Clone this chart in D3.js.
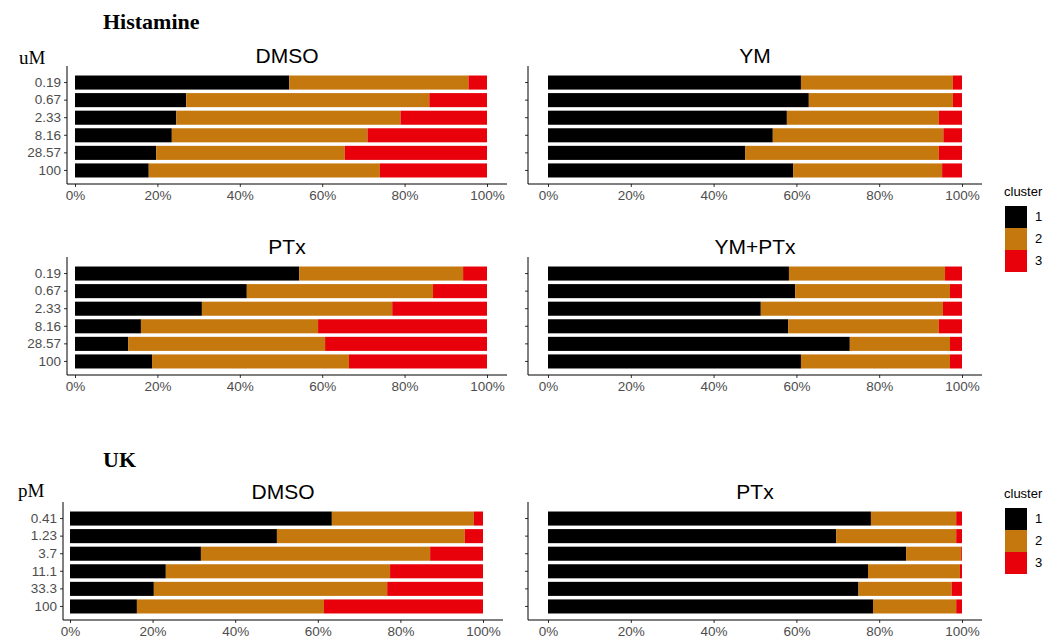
<!DOCTYPE html>
<html lang="en">
<head>
<meta charset="UTF-8">
<title>Histamine / UK clusters</title>
<script src="https://d3js.org/d3.v7.min.js"></script>
<style>
  body { margin: 0; background: #fff; }
  .tick text { font-family: 'Liberation Sans', Arial, sans-serif; font-size: 13.5px; fill: #4d4d4d; }
  .ptitle { font-family: 'Liberation Sans', Arial, sans-serif; font-size: 21px; fill: #000; }
  .serif { font-family: 'Liberation Serif', 'Times New Roman', serif; fill: #000; }
  .leg { font-family: 'Liberation Sans', Arial, sans-serif; font-size: 13px; fill: #000; }
</style>
</head>
<body>
<svg id="chart" width="1056" height="641"></svg>
<script>
const clusters = ["1", "2", "3"];
const colors = ["#000000", "#C5780E", "#E8000B"];
const histDoses = ["0.19", "0.67", "2.33", "8.16", "28.57", "100"];
const ukDoses = ["0.41", "1.23", "3.7", "11.1", "33.3", "100"];
const pctTicks = [0, 0.2, 0.4, 0.6, 0.8, 1];

// cumulative ends of cluster 1 and cluster 2 (%), one pair per dose
const histDMSO = [[52, 95.5], [27, 86], [24.6, 79], [23.5, 71], [19.7, 65.5], [17.9, 74]];
const histYM = [[61.1, 97.8], [63, 97.8], [57.7, 94.4], [54.3, 95.5], [47.6, 94.4], [59.2, 95.2]];
const histPTx = [[54.4, 94.2], [41.7, 86.9], [30.8, 77], [16, 59], [12.9, 60.7], [18.7, 66.5]];
const histYMPTx = [[58.2, 95.9], [59.7, 97.1], [51.4, 95.4], [58, 94.4], [72.9, 97.1], [61.1, 97.1]];
const ukDMSO = [[63.4, 97.8], [50.1, 95.6], [31.7, 87.2], [23.2, 77.5], [20.3, 76.8], [16.2, 61.5]];
const ukPTx = [[78, 98.6], [69.6, 98.6], [86.5, 99.8], [77.3, 99.5], [75, 97.5], [78.5, 98.6]];

const svg = d3.select("#chart");

function panel(title, doses, data, x0, x1, yTop, yBot, axisLeft, axisRight, showY) {
  const g = svg.append("g");
  const x = d3.scaleLinear().domain([0, 1]).range([x0, x1]);
  const y = d3.scaleBand().domain(doses).range([yTop, yBot]).padding(0.2);
  data.forEach((d, i) => {
    const segs = [[0, d[0]], [d[0], d[1]], [d[1], 100]];
    segs.forEach((s, k) => {
      g.append("rect")
        .attr("x", x(s[0] / 100)).attr("y", y(doses[i]))
        .attr("width", Math.max(0, x(s[1] / 100) - x(s[0] / 100)))
        .attr("height", y.bandwidth())
        .attr("fill", colors[k]);
    });
  });
  const axY = g.append("g").attr("transform", `translate(${axisLeft},0)`)
    .call(d3.axisLeft(y).tickSize(3).tickPadding(3));
  if (!showY) axY.selectAll(".tick text").remove();
  const axX = g.append("g").attr("transform", `translate(0,${yBot + 3})`)
    .call(d3.axisBottom(x).tickValues(pctTicks).tickFormat(d3.format(".0%")).tickSize(3).tickPadding(3));
  [axY, axX].forEach(a => { a.select(".domain").remove(); a.selectAll(".tick line").attr("stroke", "#333"); });
  g.append("line").attr("x1", axisLeft).attr("x2", axisLeft).attr("y1", yTop - 6).attr("y2", yBot + 3).attr("stroke", "#000");
  g.append("line").attr("x1", axisLeft).attr("x2", axisRight).attr("y1", yBot + 3).attr("y2", yBot + 3).attr("stroke", "#000");
  g.append("text").attr("class", "ptitle").attr("x", (axisLeft + axisRight) / 2).attr("y", yTop - 9)
    .attr("text-anchor", "middle").text(title);
}

function legend(yTop) {
  const g = svg.append("g");
  g.append("text").attr("class", "leg").attr("x", 1004).attr("y", yTop).text("cluster");
  clusters.forEach((c, i) => {
    g.append("rect").attr("x", 1005).attr("y", yTop + 10 + i * 22).attr("width", 22).attr("height", 22).attr("fill", colors[i]);
    g.append("text").attr("class", "leg").attr("font-size", 11).attr("x", 1035).attr("y", yTop + 25 + i * 22).text(c);
  });
}

svg.append("text").attr("class", "serif").attr("x", 103).attr("y", 29).attr("font-size", 22).attr("font-weight", "bold").text("Histamine");
svg.append("text").attr("class", "serif").attr("x", 19).attr("y", 64).attr("font-size", 19).text("uM");
svg.append("text").attr("class", "serif").attr("x", 103).attr("y", 467).attr("font-size", 22).attr("font-weight", "bold").text("UK");
svg.append("text").attr("class", "serif").attr("x", 18).attr("y", 497).attr("font-size", 19).text("pM");

panel("DMSO", histDoses, histDMSO, 75, 487, 72, 181, 67, 507, true);
panel("YM", histDoses, histYM, 548, 962, 72, 181, 528, 982, false);
panel("PTx", histDoses, histPTx, 75, 487, 263, 372, 67, 507, true);
panel("YM+PTx", histDoses, histYMPTx, 548, 962, 263, 372, 528, 982, false);
panel("DMSO", ukDoses, ukDMSO, 70, 483, 508, 617, 63, 503, true);
panel("PTx", ukDoses, ukPTx, 548, 962, 508, 617, 528, 982, false);

legend(196);
legend(498);
</script>
</body>
</html>
